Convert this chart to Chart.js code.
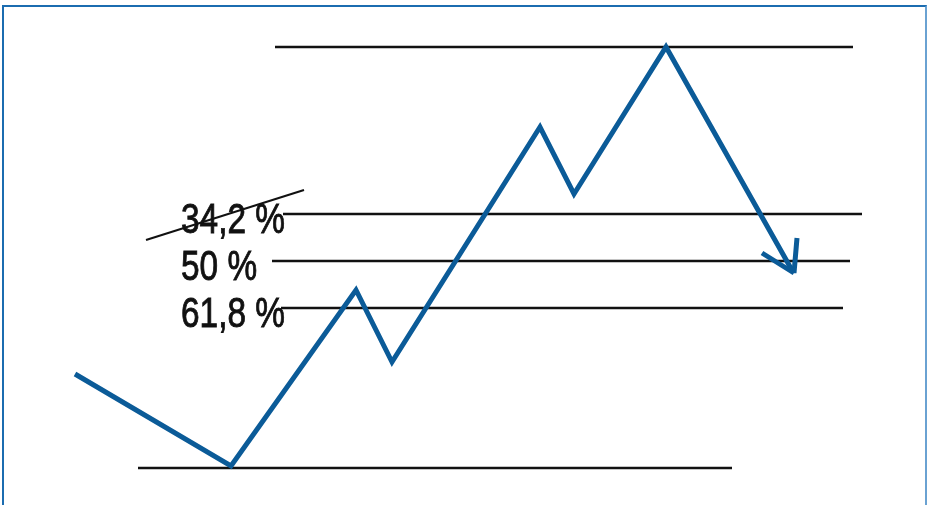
<!DOCTYPE html>
<html>
<head>
<meta charset="utf-8">
<script src="https://cdn.jsdelivr.net/npm/chart.js@4/dist/chart.umd.min.js"></script>
<style>
  html, body { margin: 0; padding: 0; background: #fff; }
  #wrap { position: relative; width: 931px; height: 505px; overflow: hidden; }
  #frame { position: absolute; left: 2px; top: 5px; width: 921px; height: 600px;
           border-top: 2px solid #1b6cb0; border-left: 2px solid #1b6cb0; border-right: 2px solid #6aa2d2; }
  canvas { position: absolute; left: 0; top: 0; }
</style>
</head>
<body>
<div id="wrap">
  <div id="frame"></div>
  <canvas id="c" width="931" height="505"></canvas>
</div>
<script>
// Price path (time, price)
const pathTimes  = [75, 231, 356, 392, 540, 574, 666, 793];
const pathPrices = [131, 39, 215, 143, 378, 311, 458, 233];

// Arrow head arms (time, price)
const arrowTimes  = [762, 794, null, 797, 794];
const arrowPrices = [252, 232, null, 267, 232];

// Horizontal levels: name, price, start time, end time
const levelNames  = ['high', '34,2 %', '50 %', '61,8 %', 'low'];
const levelPrices = [458, 291, 244, 197, 37];
const levelStarts = [275, 283, 272, 281, 138];
const levelEnds   = [853, 862, 850, 843, 732];

// Labels for retracement levels
const labelTexts  = ['34,2 %', '50 %', '61,8 %'];
const labelPrices = [291, 244, 197];
const labelTime   = 181;

// Strike-through line over 34,2 %
const strikeTimes  = [146, 304];
const strikePrices = [265, 315];

const blue = '#0b5b98';
const black = '#111111';

const datasets = [];
levelPrices.forEach((p, i) => {
  datasets.push({
    label: levelNames[i],
    data: [{x: levelStarts[i], y: p}, {x: levelEnds[i], y: p}],
    borderColor: black, borderWidth: 2.5, pointRadius: 0, borderCapStyle: 'butt'
  });
});
datasets.push({
  label: 'price',
  data: pathTimes.map((t, i) => ({x: t, y: pathPrices[i]})),
  borderColor: blue, borderWidth: 5, pointRadius: 0, borderJoinStyle: 'miter', borderCapStyle: 'butt', order: -1
});
datasets.push({
  label: 'arrow',
  data: arrowTimes.map((t, i) => ({x: t, y: arrowPrices[i]})),
  borderColor: blue, borderWidth: 5, pointRadius: 0, borderJoinStyle: 'miter', borderCapStyle: 'butt', spanGaps: false, order: -1
});

const labelPlugin = {
  id: 'levelLabels',
  afterDatasetsDraw(chart) {
    const ctx = chart.ctx;
    const xs = chart.scales.x, ys = chart.scales.y;
    ctx.save();
    ctx.fillStyle = black;
    ctx.strokeStyle = black;
    ctx.lineWidth = 0.9;
    ctx.font = '42px "Liberation Sans", Arial, sans-serif';
    ctx.textBaseline = 'alphabetic';
    ctx.textAlign = 'left';
    const w = ctx.measureText(labelTexts[0]).width;
    const sx = 104 / w;
    labelTexts.forEach((t, i) => {
      const px = xs.getPixelForValue(labelTime);
      const py = ys.getPixelForValue(labelPrices[i]) + 19;
      ctx.save();
      ctx.translate(px, py);
      ctx.scale(sx, 1);
      ctx.fillText(t, 0, 0);
      ctx.strokeText(t, 0, 0);
      ctx.restore();
    });
    // strike line over the 34,2 % label
    ctx.lineWidth = 2;
    ctx.beginPath();
    ctx.moveTo(xs.getPixelForValue(strikeTimes[0]), ys.getPixelForValue(strikePrices[0]));
    ctx.lineTo(xs.getPixelForValue(strikeTimes[1]), ys.getPixelForValue(strikePrices[1]));
    ctx.stroke();
    ctx.restore();
  }
};

new Chart(document.getElementById('c'), {
  type: 'line',
  data: { datasets },
  options: {
    responsive: false,
    animation: false,
    layout: { padding: 0 },
    elements: { line: { tension: 0 } },
    plugins: { legend: { display: false }, tooltip: { enabled: false } },
    scales: {
      x: { type: 'linear', min: 0, max: 931, display: false },
      y: { type: 'linear', min: 0, max: 505, display: false }
    }
  },
  plugins: [labelPlugin]
});
</script>
</body>
</html>
